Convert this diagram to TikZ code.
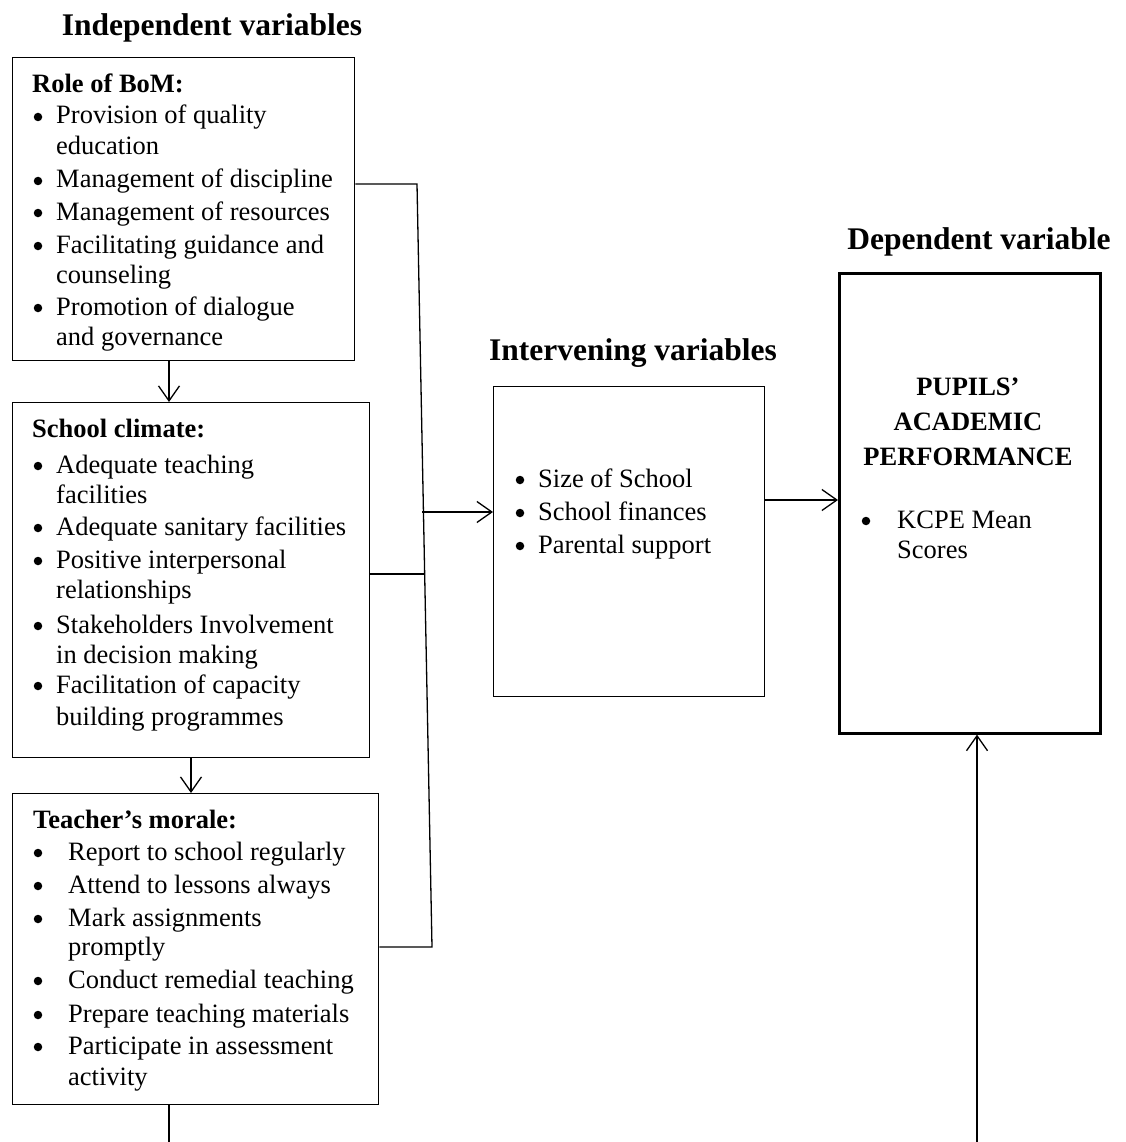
\documentclass[tikz,border=0pt]{standalone}
\usepackage{fontspec}
\setmainfont{Liberation Serif}
\usetikzlibrary{arrows.meta}
\begin{document}
\begin{tikzpicture}[x=1pt,y=-1pt,
  box/.style={draw,line width=1.3pt,inner sep=0pt,anchor=north west},
  thickbox/.style={box,line width=2.6pt},
  body/.style={anchor=base west,inner sep=0pt,font=\fontsize{26.5}{31.6}\selectfont},
  bodyc/.style={anchor=base,inner sep=0pt,font=\fontsize{26.5}{31.6}\selectfont\bfseries},
  bhead/.style={anchor=base west,inner sep=0pt,font=\fontsize{26.5}{31.6}\selectfont\bfseries},
  bul/.style={circle,fill=black,inner sep=0pt,minimum size=8.5pt,yshift=7pt},
  title/.style={anchor=base,inner sep=0pt,font=\fontsize{31.5}{36}\selectfont\bfseries},
  conn/.style={line width=1.3pt},
  arr/.style={conn,-{Straight Barb[length=15pt,width=21pt,line width=1.3pt]}}
]
\useasboundingbox (0,0) rectangle (1125,1142);

% titles
\node[title] (tind) at (212,36) {Independent variables};
\node[title] (tint) at (633,360) {Intervening variables};
\node[title] (tdep) at (979,249) {Dependent variable};

% boxes
\node[box,minimum width=342pt,minimum height=303pt] (b1) at (12,57) {};
\node[box,minimum width=357pt,minimum height=355pt] (b2) at (12,402) {};
\node[box,minimum width=366pt,minimum height=311pt] (b3) at (12,793) {};
\node[box,minimum width=271pt,minimum height=310pt] (iv) at (493,386) {};
\node[thickbox,minimum width=261pt,minimum height=460pt] (dv) at (838,272) {};

% box 1 text
\node[bhead] (h1) at (32,93) {Role of BoM:};
\node[bul] (p1a) at (38,124) {};
\node[body] (t1a) at (56,124) {Provision of quality};
\node[body] (t1b) at (56,155) {education};
\node[bul] (p1c) at (38,188) {};
\node[body] (t1c) at (56,188) {Management of discipline};
\node[bul] (p1d) at (38,220) {};
\node[body] (t1d) at (56,220) {Management of resources};
\node[bul] (p1e) at (38,253) {};
\node[body] (t1e) at (56,253) {Facilitating guidance and};
\node[body] (t1f) at (56,283) {counseling};
\node[bul] (p1g) at (38,315) {};
\node[body] (t1g) at (56,315) {Promotion of dialogue};
\node[body] (t1h) at (56,345) {and governance};

% box 2 text
\node[bhead] (h2) at (32,437) {School climate:};
\node[bul] (p2a) at (38,473) {};
\node[body] (t2a) at (56,473) {Adequate teaching};
\node[body] (t2b) at (56,503) {facilities};
\node[bul] (p2c) at (38,535) {};
\node[body] (t2c) at (56,535) {Adequate sanitary facilities};
\node[bul] (p2d) at (38,568) {};
\node[body] (t2d) at (56,568) {Positive interpersonal};
\node[body] (t2e) at (56,598) {relationships};
\node[bul] (p2f) at (38,633) {};
\node[body] (t2f) at (56,633) {Stakeholders Involvement};
\node[body] (t2g) at (56,663) {in decision making};
\node[bul] (p2h) at (38,693) {};
\node[body] (t2h) at (56,693) {Facilitation of capacity};
\node[body] (t2i) at (56,725) {building programmes};

% box 3 text
\node[bhead] (h3) at (33,828) {Teacher’s morale:};
\node[bul] (p3a) at (38,860) {};
\node[body] (t3a) at (68,860) {Report to school regularly};
\node[bul] (p3b) at (38,893) {};
\node[body] (t3b) at (68,893) {Attend to lessons always};
\node[bul] (p3c) at (38,926) {};
\node[body] (t3c) at (68,926) {Mark assignments};
\node[body] (t3d) at (68,955) {promptly};
\node[bul] (p3e) at (38,988) {};
\node[body] (t3e) at (68,988) {Conduct remedial teaching};
\node[bul] (p3f) at (38,1022) {};
\node[body] (t3f) at (68,1022) {Prepare teaching materials};
\node[bul] (p3g) at (38,1054) {};
\node[body] (t3g) at (68,1054) {Participate in assessment};
\node[body] (t3h) at (68,1085) {activity};

% intervening text
\node[bul] (p4a) at (520,487) {};
\node[body] (t4a) at (538,487) {Size of School};
\node[bul] (p4b) at (520,520) {};
\node[body] (t4b) at (538,520) {School finances};
\node[bul] (p4c) at (520,553) {};
\node[body] (t4c) at (538,553) {Parental support};

% dependent text
\node[bodyc] (t5a) at (968,395) {PUPILS’};
\node[bodyc] (t5b) at (968,430) {ACADEMIC};
\node[bodyc] (t5c) at (968,465) {PERFORMANCE};
\node[bul] (p5d) at (866,528) {};
\node[body] (t5d) at (897,528) {KCPE Mean};
\node[body] (t5e) at (897,558) {Scores};

% connectors
\coordinate (j1) at (417,184);
\coordinate (j3) at (432,947);
\coordinate (j2) at (424,574);
\coordinate (ja) at (422,512);
\coordinate (a1) at (169,360);
\coordinate (a2) at (191,757);
\coordinate (e1) at (169,1142);
\coordinate (e2) at (977,1142);
\coordinate (ia) at (764,500);

\draw[conn] (j1 -| b1.east) -- (j1) -- (j3) -- (j3 -| b3.east);
\draw[conn] (j2 -| b2.east) -- (j2);
\draw[arr] (ja) -- (ja -| iv.west);
\draw[arr] (a1 |- b1.south) -- (a1 |- b2.north);
\draw[arr] (a2 |- b2.south) -- (a2 |- b3.north);
\draw[conn] (e1 |- b3.south) -- (e1);
\draw[arr] (ia -| iv.east) -- (ia -| dv.west);
\draw[arr] (e2) -- (e2 |- dv.south);
\end{tikzpicture}
\end{document}
